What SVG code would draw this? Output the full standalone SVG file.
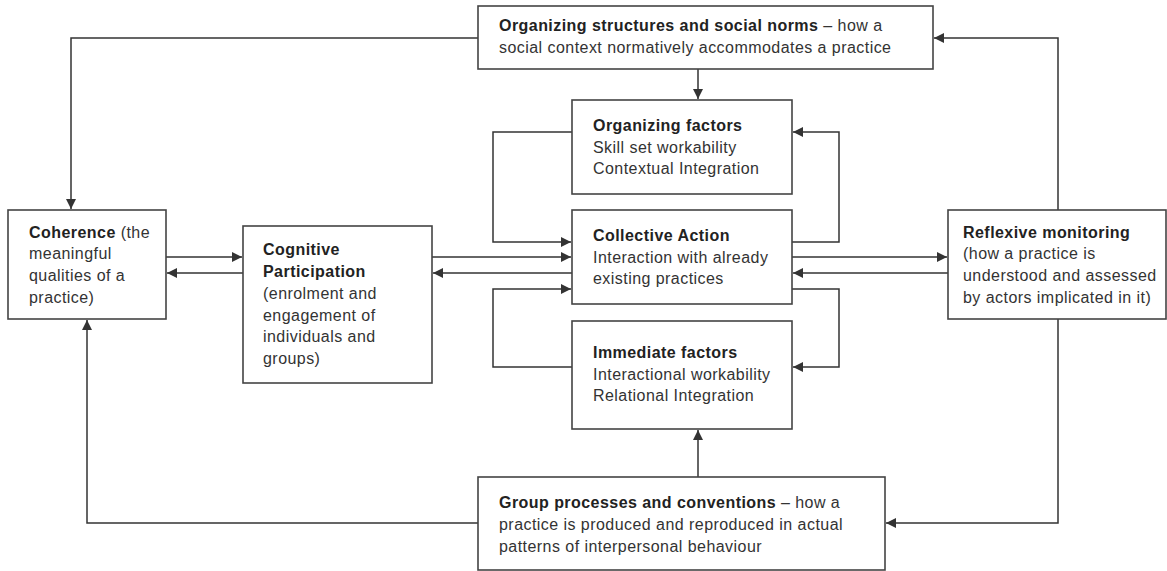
<svg xmlns="http://www.w3.org/2000/svg" width="1167" height="571" viewBox="0 0 1167 571">
<style>
.box{fill:#fff;stroke:#444;stroke-width:1.6}
.ln{fill:none;stroke:#333;stroke-width:1.5}
text{font-family:"Liberation Sans",Arial,sans-serif;font-size:16px;letter-spacing:0.45px;fill:#333}
.b{font-weight:bold;fill:#222}
</style>
<defs>
<marker id="ah" viewBox="0 0 10 10" refX="10" refY="5" markerWidth="10" markerHeight="10" markerUnits="userSpaceOnUse" orient="auto">
<path d="M0,0 L10,5 L0,10 z" fill="#333"/>
</marker>
</defs>
<rect width="1167" height="571" fill="#fff"/>
<g id="connectors">
<path class="ln" d="M478,38 H71 V209" marker-end="url(#ah)"/>
<path class="ln" d="M1058,210 V38 H934" marker-end="url(#ah)"/>
<path class="ln" d="M698,69 V99" marker-end="url(#ah)"/>
<path class="ln" d="M478,523 H87 V320" marker-end="url(#ah)"/>
<path class="ln" d="M1058,319 V523 H886" marker-end="url(#ah)"/>
<path class="ln" d="M698,477 V430" marker-end="url(#ah)"/>
<path class="ln" d="M166,257 H242" marker-end="url(#ah)"/>
<path class="ln" d="M243,273 H167" marker-end="url(#ah)"/>
<path class="ln" d="M432,257 H571" marker-end="url(#ah)"/>
<path class="ln" d="M572,273 H433" marker-end="url(#ah)"/>
<path class="ln" d="M792,257 H947" marker-end="url(#ah)"/>
<path class="ln" d="M948,273 H793" marker-end="url(#ah)"/>
<path class="ln" d="M572,132 H493 V242 H571" marker-end="url(#ah)"/>
<path class="ln" d="M792,242 H839 V132 H793" marker-end="url(#ah)"/>
<path class="ln" d="M572,367 H493 V289 H571" marker-end="url(#ah)"/>
<path class="ln" d="M792,289 H839 V367 H793" marker-end="url(#ah)"/>
</g>
<g id="organizing-structures">
<rect class="box" x="478" y="6" width="455" height="63"/>
<text x="499" y="31"><tspan class="b">Organizing structures and social norms</tspan> – how a</text>
<text x="499" y="53">social context normatively accommodates a practice</text>
</g>
<g id="organizing-factors">
<rect class="box" x="572" y="100" width="220" height="94"/>
<text x="593" y="131" class="b">Organizing factors</text>
<text x="593" y="153">Skill set workability</text>
<text x="593" y="174">Contextual Integration</text>
</g>
<g id="collective-action">
<rect class="box" x="572" y="210" width="220" height="94"/>
<text x="593" y="241" class="b">Collective Action</text>
<text x="593" y="263">Interaction with already</text>
<text x="593" y="284">existing  practices</text>
</g>
<g id="immediate-factors">
<rect class="box" x="572" y="321" width="220" height="108"/>
<text x="593" y="358" class="b">Immediate factors</text>
<text x="593" y="380">Interactional workability</text>
<text x="593" y="401">Relational Integration</text>
</g>
<g id="coherence">
<rect class="box" x="8" y="210" width="158" height="109"/>
<text x="29" y="238"><tspan class="b">Coherence</tspan> (the</text>
<text x="29" y="259">meaningful</text>
<text x="29" y="281">qualities of a</text>
<text x="29" y="303">practice)</text>
</g>
<g id="cognitive-participation">
<rect class="box" x="243" y="226" width="189" height="157"/>
<text x="263" y="255" class="b">Cognitive</text>
<text x="263" y="277" class="b">Participation</text>
<text x="263" y="299">(enrolment and</text>
<text x="263" y="321">engagement of</text>
<text x="263" y="342">individuals and</text>
<text x="263" y="364">groups)</text>
</g>
<g id="reflexive-monitoring">
<rect class="box" x="948" y="210" width="218" height="109"/>
<text x="963" y="238" class="b">Reflexive monitoring</text>
<text x="963" y="259">(how a practice is</text>
<text x="963" y="281">understood and assessed</text>
<text x="963" y="303">by actors implicated in it)</text>
</g>
<g id="group-processes">
<rect class="box" x="478" y="477" width="407" height="93"/>
<text x="499" y="508"><tspan class="b">Group processes and conventions</tspan> – how a</text>
<text x="499" y="530">practice is produced and reproduced in actual</text>
<text x="499" y="552">patterns of interpersonal behaviour</text>
</g>
</svg>
